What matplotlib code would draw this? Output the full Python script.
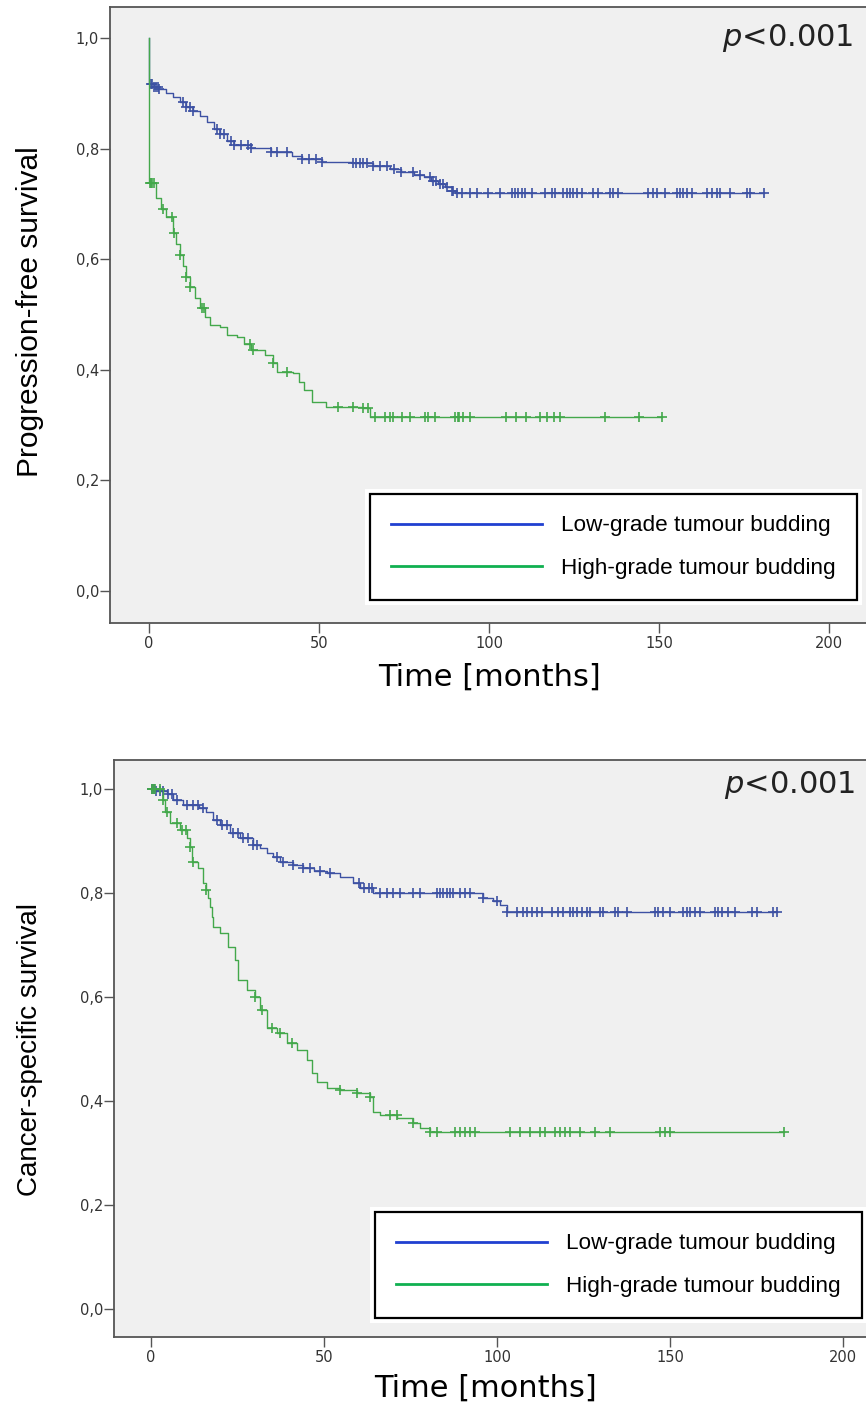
import numpy as np
import matplotlib
matplotlib.use("Agg")
import matplotlib.pyplot as plt
from matplotlib.lines import Line2D
from matplotlib.patches import Rectangle

# --- data (Kaplan-Meier steps + censor times) ---
pfs_low_t = [0, 0, 1.5, 3, 5, 7, 9, 11, 13, 15, 17, 19, 21, 23, 25, 30, 36, 42, 45, 51,
             60, 66, 71, 74, 78, 81, 83, 85, 87, 89, 90, 181]
pfs_low_s = [1.0, 0.917, 0.912, 0.907, 0.900, 0.893, 0.884, 0.876, 0.868, 0.858, 0.848,
             0.836, 0.826, 0.814, 0.806, 0.801, 0.794, 0.786, 0.781, 0.776, 0.773, 0.768,
             0.763, 0.758, 0.753, 0.748, 0.742, 0.736, 0.730, 0.724, 0.720, 0.720]
pfs_low_cens = [0.5, 1, 1.5, 2, 2.5, 3, 10, 11, 12, 13, 20, 21, 22, 24, 25, 27, 29, 30,
                36, 37.5, 40.6, 45, 47, 49, 51, 60, 61, 62, 63, 64, 66, 68, 70, 72, 74,
                77.6, 79.7, 82.6, 83.5, 84.5, 85.5, 86.5, 87.5, 89, 89.4, 90.6, 92, 94.4,
                96.5, 99.7, 103.2, 106.8, 107.6, 108.5, 109.7, 110.6, 112.6, 116.5, 118.5,
                119.4, 121.8, 123, 123.8, 124.7, 125.9, 127.4, 130.6, 132, 135.6, 136.5,
                138, 146.8, 148.2, 149.4, 151.8, 155.3, 156.2, 157, 158.2, 159.7, 164,
                165.6, 167, 167.9, 170.9, 175.9, 176.8, 181]

pfs_high_t = [0, 0, 2, 3.5, 5, 7, 8, 9, 10, 11, 12, 13.5, 15, 16.5, 18, 21, 23, 26, 28,
              30, 34, 36.5, 37.6, 42.4, 44, 45.5, 48, 52, 63, 65, 151]
pfs_high_s = [1.0, 0.738, 0.710, 0.690, 0.676, 0.647, 0.628, 0.608, 0.588, 0.568, 0.550,
              0.530, 0.512, 0.496, 0.481, 0.477, 0.463, 0.460, 0.447, 0.436, 0.427, 0.412,
              0.396, 0.394, 0.378, 0.363, 0.342, 0.333, 0.331, 0.315, 0.315]
pfs_high_cens = [0.3, 0.6, 1, 1.3, 4, 6.7, 7.2, 9, 11, 12, 15.6, 16.2, 29.7, 30.5, 36.5,
                 40.5, 55.6, 60, 63, 64.5, 66.5, 69.4, 70.9, 71.8, 74.4, 76.8, 81.2, 82,
                 84, 90, 90.9, 91.2, 92.4, 94.4, 105, 108, 111, 115, 117, 119, 121, 134,
                 144, 151]

css_low_t = [0, 1.2, 4.6, 6.4, 9.2, 14, 16, 18, 20, 22.8, 25.7, 29.5, 31.5, 33.5, 35.3,
             37.3, 41, 44, 47, 50.9, 54.6, 58.4, 60.4, 64.2, 96, 98.8, 100.9, 102.9, 181]
css_low_s = [1.0, 0.997, 0.990, 0.979, 0.969, 0.963, 0.956, 0.940, 0.931, 0.915, 0.906,
             0.892, 0.887, 0.878, 0.869, 0.860, 0.854, 0.848, 0.843, 0.838, 0.831, 0.819,
             0.810, 0.800, 0.790, 0.785, 0.777, 0.764, 0.764]
css_low_cens = [0.3, 0.8, 1.5, 2.6, 3.5, 5, 6, 7.5, 10.4, 12, 13.5, 15, 19, 20.5, 22,
                23.7, 25, 26.5, 28, 29.5, 30.6, 36.4, 38, 41, 44, 46, 48.8, 51.7, 60, 61.5,
                63, 64, 66.2, 68.2, 69.9, 72, 75.7, 77.7, 82.7, 83.5, 84.4, 85.5, 86.4,
                87.3, 89.3, 90.8, 92.2, 96, 100, 102.9, 105.8, 107.5, 108.7, 110.1, 111.6,
                113, 115.9, 117.6, 119.1, 121.1, 122, 123.1, 124.6, 126, 126.9, 129.8,
                130.6, 134.1, 135, 137.6, 145.7, 146.5, 148, 150, 153.8, 154.9, 155.8,
                157.2, 158.7, 163, 163.9, 165, 166.8, 168.8, 173.7, 175.1, 179.8, 181]

css_high_t = [0, 3.5, 4, 5.5, 8.4, 10.4, 11.3, 11.8, 13.6, 15, 16, 16.5, 17, 17.5, 18, 20,
              22.3, 24.3, 25, 27.7, 30, 31.5, 33.5, 36.4, 39.3, 42.2, 45, 46.5, 48, 50.9,
              54.6, 59.5, 63.3, 64.2, 66.2, 71.1, 75.7, 77.7, 80.6, 183]
css_high_s = [1.0, 0.979, 0.956, 0.935, 0.921, 0.906, 0.888, 0.860, 0.848, 0.819, 0.806,
              0.790, 0.773, 0.754, 0.735, 0.723, 0.696, 0.671, 0.633, 0.613, 0.600, 0.575,
              0.540, 0.531, 0.512, 0.498, 0.479, 0.454, 0.437, 0.425, 0.421, 0.415, 0.408,
              0.379, 0.373, 0.367, 0.358, 0.348, 0.340, 0.340]
css_high_cens = [0.3, 0.7, 1.2, 2.6, 3.6, 4.6, 7.5, 9, 10, 11.3, 12, 16, 30, 32, 35,
                 37.3, 40.8, 54.6, 59.5, 63.3, 69, 71, 75.7, 80.6, 82.7, 87.9, 89.3, 90.8,
                 92.2, 93.6, 103.8, 106.6, 109.5, 112.4, 113.9, 116.8, 118.2, 119.7,
                 121.1, 124, 128.3, 132.7, 147.1, 148.6, 150, 183]

x_ticks = [0, 50, 100, 150, 200]
y_ticks = [0.0, 0.2, 0.4, 0.6, 0.8, 1.0]
y_tick_labels = ["0,0", "0,2", "0,4", "0,6", "0,8", "1,0"]
group_labels = ["Low-grade tumour budding", "High-grade tumour budding"]

BLUE = "#3d51a3"
GREEN = "#43a84b"
W, H = 866, 1403


def km_at(t, s, c):
    idx = np.searchsorted(np.asarray(t), np.asarray(c), side="right") - 1
    return np.asarray(s)[idx]


def draw_panel(ax, low, high, xlim, ylim):
    ax.set_facecolor("#f0f0f0")
    for (t, s, c), col in [(low, BLUE), (high, GREEN)]:
        ax.step(t, s, where="post", color=col, lw=1.0)
        ax.plot(c, km_at(t, s, c), ls="none", marker="+", ms=7, mew=1.2, color=col)
    ax.set_xlim(*xlim)
    ax.set_ylim(*ylim)
    ax.set_xticks(x_ticks)
    ax.set_yticks(y_ticks)
    ax.set_yticklabels(y_tick_labels)
    ax.tick_params(direction="out", length=7, width=1, color="#555555",
                   labelsize=10.5, labelcolor="#333333")
    ax.tick_params(axis="y", pad=1)
    ax.tick_params(axis="x", pad=2)
    for sp in ax.spines.values():
        sp.set_color("#555555")
        sp.set_linewidth(1.3)


def add_legend(ax, x0, y0):
    handles = [Line2D([], [], color="#2040d0", lw=2), Line2D([], [], color="#10b050", lw=2)]
    leg = ax.legend(handles, group_labels, loc="upper left",
                    bbox_to_anchor=(x0 / W, 1 - y0 / H), bbox_transform=fig.transFigure,
                    borderaxespad=0, fancybox=False, framealpha=1, edgecolor="black",
                    facecolor="white", handlelength=6.7, handletextpad=0.85,
                    borderpad=0.95, labelspacing=0.95,
                    prop={"family": "Liberation Sans", "size": 16.2})
    leg.get_frame().set_linewidth(1.6)
    return leg


fig = plt.figure(figsize=(W / 100, H / 100), dpi=100)

# top panel: progression-free survival
ax1 = fig.add_axes([110 / W, 1 - 623 / H, 770 / W, 616 / H])
draw_panel(ax1, (pfs_low_t, pfs_low_s, pfs_low_cens),
           (pfs_high_t, pfs_high_s, pfs_high_cens), (-11.5, 215), (-0.058, 1.056))
leg1 = add_legend(ax1, 370, 494)

# bottom panel: cancer-specific survival
ax2 = fig.add_axes([114 / W, 1 - 1337 / H, 781 / W, 577 / H])
draw_panel(ax2, (css_low_t, css_low_s, css_low_cens),
           (css_high_t, css_high_s, css_high_cens), (-10.7, 215), (-0.054, 1.056))
leg2 = add_legend(ax2, 375, 1212)

# white margin around the legend boxes
fig.canvas.draw()
for ax, leg in [(ax1, leg1), (ax2, leg2)]:
    bb = leg.get_window_extent()
    ax.add_patch(Rectangle((bb.x0 - 5, bb.y0 - 5), bb.width + 10, bb.height + 10,
                           transform=None, facecolor="white", edgecolor="none",
                           zorder=4.5))

fig.text(30 / W, 1 - 312 / H, "Progression-free survival", rotation=90, ha="center",
         va="center", fontsize=21.5, family="Liberation Sans")
fig.text(30 / W, 1 - 1050 / H, "Cancer-specific survival", rotation=90, ha="center",
         va="center", fontsize=20, family="Liberation Sans")
fig.text(489 / W, 1 - 677 / H, "Time [months]", ha="center", va="center", fontsize=22)
fig.text(485 / W, 1 - 1388 / H, "Time [months]", ha="center", va="center", fontsize=22)
fig.text(722 / W, 1 - 46 / H, "$p$<0.001", ha="left", va="baseline", fontsize=22,
         color="#222222")
fig.text(724 / W, 1 - 793 / H, "$p$<0.001", ha="left", va="baseline", fontsize=22,
         color="#222222")

fig.savefig("out.png", dpi=100)
